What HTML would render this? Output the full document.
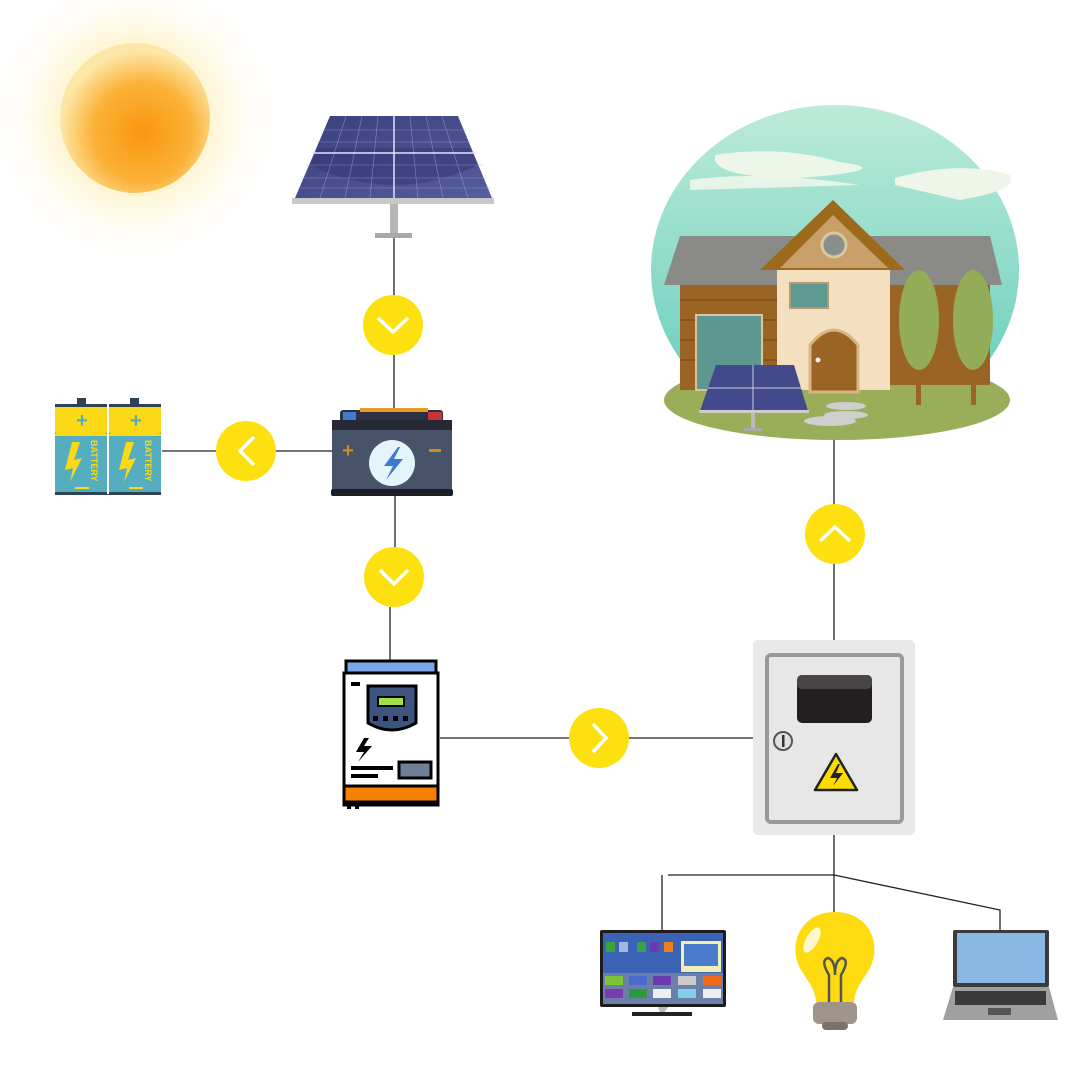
<!DOCTYPE html>
<html><head><meta charset="utf-8"><style>html,body{margin:0;padding:0;background:#fff}svg{display:block}</style></head><body>
<svg width="1080" height="1080" viewBox="0 0 1080 1080" xmlns="http://www.w3.org/2000/svg">
<defs>
<radialGradient id="glow" cx="0.5" cy="0.5" r="0.5">
<stop offset="0" stop-color="#fde9a0" stop-opacity="1"/><stop offset="0.5" stop-color="#fdf1c0" stop-opacity="0.7"/><stop offset="1" stop-color="#fff" stop-opacity="0"/></radialGradient>
<radialGradient id="sun" cx="0.55" cy="0.6" r="0.55">
<stop offset="0" stop-color="#f9960f"/><stop offset="0.6" stop-color="#fbb238"/><stop offset="1" stop-color="#fde7a8"/></radialGradient>
<linearGradient id="sky" x1="0" y1="0" x2="0" y2="1"><stop offset="0" stop-color="#bdebd8"/><stop offset="1" stop-color="#5fcabb"/></linearGradient>
<linearGradient id="panel" x1="0" y1="0" x2="1" y2="1"><stop offset="0" stop-color="#3a3f7e"/><stop offset="1" stop-color="#565d9c"/></linearGradient>
<g id="cellgrid" stroke="#8a90c8" stroke-width="0.5" opacity="0.8"></g>
</defs>
<!-- sun -->
<circle cx="135" cy="118" r="150" fill="url(#glow)"/>
<circle cx="135" cy="118" r="75" fill="url(#sun)"/>
<!-- connectors -->
<g stroke="#222" stroke-width="1.3" fill="none">
<line x1="394" y1="238" x2="394" y2="410"/>
<line x1="162" y1="451" x2="332" y2="451"/>
<line x1="395" y1="496" x2="395" y2="548"/>
<line x1="390" y1="607" x2="390" y2="662"/>
<line x1="440" y1="738" x2="755" y2="738"/>
<line x1="834" y1="440" x2="834" y2="640"/>
<line x1="834" y1="835" x2="834" y2="912"/>
<line x1="668" y1="875" x2="834" y2="875"/>
<line x1="662" y1="875" x2="662" y2="930"/>
<polyline points="834,875 1000,910 1000,930"/>
</g>
<!-- yellow circles -->
<g fill="#fde010"><circle cx="393" cy="325" r="30"/><circle cx="246" cy="451" r="30"/><circle cx="394" cy="577" r="30"/><circle cx="599" cy="738" r="30"/><circle cx="835" cy="534" r="30"/></g>
<g stroke="#fff" stroke-width="3.5" fill="none">
<polyline points="378,318 393,332 408,318"/>
<polyline points="380,570 394,584 408,570"/>
<polyline points="254,437 240,451 254,465"/>
<polyline points="593,724 606,738 593,752"/>
<polyline points="820,541 835,527 850,541"/>
</g>
<!-- solar panel -->
<polygon points="330,116 458,116 492,198 295,198" fill="url(#panel)"/>
<path d="M310,165 Q394,205 478,165 L470,148 L318,148Z" fill="#2b2f6a" opacity="0.4"/>
<g stroke="#9ea4d8" stroke-width="0.6" opacity="0.7">
<line x1="322" y1="130" x2="466" y2="130"/><line x1="316" y1="142" x2="471" y2="142"/><line x1="306" y1="165" x2="482" y2="165"/><line x1="301" y1="178" x2="487" y2="178"/><line x1="298" y1="188" x2="490" y2="188"/>
<line x1="346" y1="116" x2="320" y2="198"/><line x1="362" y1="116" x2="345" y2="198"/><line x1="378" y1="116" x2="370" y2="198"/><line x1="410" y1="116" x2="418" y2="198"/><line x1="426" y1="116" x2="443" y2="198"/><line x1="442" y1="116" x2="468" y2="198"/>
</g>
<line x1="313" y1="153" x2="476" y2="153" stroke="#e0e3ff" stroke-width="1.5"/>
<line x1="394" y1="116" x2="394" y2="198" stroke="#e0e3ff" stroke-width="1.5"/>
<rect x="292" y="198" width="202" height="6" fill="#c8c8c8"/>
<rect x="390" y="204" width="8" height="30" fill="#b5b5b5"/>
<rect x="375" y="233" width="37" height="5" fill="#a9a9a9"/>
<!-- battery -->
<rect x="340" y="410" width="103" height="12" rx="3" fill="#2d3040"/>
<rect x="343" y="412" width="13" height="8" fill="#3f7bd0"/>
<rect x="428" y="412" width="14" height="8" fill="#c83333"/>
<rect x="360" y="408" width="68" height="4" fill="#e89a2a"/>
<rect x="332" y="420" width="120" height="12" fill="#262834"/>
<rect x="332" y="430" width="120" height="60" fill="#465368"/>
<rect x="331" y="489" width="122" height="7" rx="2" fill="#1d1e27"/>
<text x="348" y="457" font-family="Liberation Sans,sans-serif" font-size="20" font-weight="bold" fill="#d48a1c" text-anchor="middle">+</text>
<rect x="429" y="449" width="12" height="3" fill="#d48a1c"/>
<circle cx="392" cy="463" r="23" fill="#e4f4fb"/>
<polygon points="398,447 384,466 393,466 386,480 403,459 394,459 400,447" fill="#3c7acb"/>
<!-- batteries pack -->
<g>
<rect x="77" y="398" width="9" height="7" fill="#2e4258"/><rect x="130" y="398" width="9" height="7" fill="#2e4258"/>
<rect x="55" y="404" width="52" height="90" rx="3" fill="#55aebf"/><rect x="109" y="404" width="52" height="90" rx="3" fill="#55aebf"/>
<rect x="55" y="404" width="52" height="30" rx="3" fill="#fbd917"/><rect x="109" y="404" width="52" height="30" rx="3" fill="#fbd917"/>
<rect x="55" y="434" width="106" height="2" fill="#fbd917"/>
<rect x="55" y="404" width="106" height="3" fill="#2e4258"/><rect x="55" y="492" width="106" height="3" fill="#2e4258"/>
<rect x="107" y="404" width="2" height="90" fill="#fff"/>
<g fill="#55aebf" font-family="Liberation Sans,sans-serif" font-weight="bold" font-size="20" text-anchor="middle"><text x="82" y="427">+</text><text x="136" y="427">+</text></g>
<rect x="75" y="487" width="14" height="2" fill="#fbd917"/><rect x="129" y="487" width="14" height="2" fill="#fbd917"/>
<polygon points="72,442 65,470 73,468 70,482 82,458 74,460 80,442" fill="#fbd917"/>
<polygon points="126,442 119,470 127,468 124,482 136,458 128,460 134,442" fill="#fbd917"/>
<g fill="#fbd917" font-family="Liberation Sans,sans-serif" font-weight="bold" font-size="9"><text transform="translate(91,440) rotate(90)">BATTERY</text><text transform="translate(145,440) rotate(90)">BATTERY</text></g>
</g>
<!-- inverter -->
<rect x="346" y="661" width="90" height="12" fill="#7aa6ea" stroke="#000" stroke-width="3"/>
<rect x="344" y="673" width="94" height="132" fill="#fff" stroke="#000" stroke-width="3"/>
<rect x="344" y="786" width="94" height="16" fill="#f78000" stroke="#000" stroke-width="3"/>
<rect x="347" y="803" width="4" height="6" fill="#000"/><rect x="355" y="803" width="4" height="6" fill="#000"/>
<rect x="351" y="682" width="9" height="4" fill="#000"/>
<path d="M368,686 H416 V723 Q392,737 368,723Z" fill="#3d5480" stroke="#000" stroke-width="3"/>
<rect x="378" y="697" width="26" height="9" fill="#9ee24a" stroke="#000" stroke-width="2"/>
<g fill="#000"><rect x="373" y="716" width="5" height="5"/><rect x="383" y="716" width="5" height="5"/><rect x="393" y="716" width="5" height="5"/><rect x="403" y="716" width="5" height="5"/></g>
<polygon points="364,738 356,752 364,752 358,762 372,746 364,746 369,738" fill="#000"/>
<rect x="351" y="766" width="42" height="4" fill="#000"/><rect x="351" y="774" width="27" height="4" fill="#000"/>
<rect x="399" y="762" width="32" height="16" fill="#6f7f99" stroke="#000" stroke-width="3"/>
<!-- electrical box -->
<rect x="753" y="640" width="162" height="195" rx="5" fill="#e8e9e8"/>
<rect x="767" y="655" width="135" height="167" rx="4" fill="#e6e7e6" stroke="#999" stroke-width="4"/>
<rect x="797" y="675" width="75" height="48" rx="5" fill="#231f20"/>
<rect x="797" y="675" width="75" height="14" rx="5" fill="#4a4647"/>
<circle cx="783" cy="741" r="9" fill="#e0e0e0" stroke="#555" stroke-width="2"/><rect x="782" y="735" width="2.5" height="12" fill="#333"/>
<polygon points="836,754 815,790 857,790" fill="#fddb00" stroke="#222" stroke-width="2.5" stroke-linejoin="round"/>
<polygon points="838,764 830,778 837,778 833,786 843,773 836,773 840,764" fill="#222"/>
<!-- house -->
<ellipse cx="835" cy="270" rx="184" ry="165" fill="url(#sky)"/>
<path d="M715,155 Q780,145 840,162 Q900,170 800,178 Q720,178 715,160Z" fill="#eef6ea"/>
<path d="M690,180 Q760,170 860,185 L690,190Z" fill="#eef6ea" opacity="0.9"/>
<path d="M895,178 Q960,160 1010,175 Q1020,190 960,200 L895,185Z" fill="#eef6ea"/>
<ellipse cx="837" cy="400" rx="173" ry="40" fill="#9aae5a"/>
<polygon points="680,236 990,236 1002,285 664,285" fill="#8a8a86"/>
<rect x="680" y="285" width="97" height="105" fill="#9a6424"/>
<rect x="890" y="285" width="100" height="100" fill="#9a6424"/>
<g stroke="#7c4e1a" stroke-width="1.5"><line x1="680" y1="300" x2="777" y2="300"/><line x1="680" y1="320" x2="777" y2="320"/><line x1="680" y1="340" x2="777" y2="340"/><line x1="680" y1="360" x2="777" y2="360"/></g>
<rect x="696" y="315" width="66" height="75" fill="#5e9790" stroke="#d8c4a0" stroke-width="2"/>
<rect x="777" y="270" width="113" height="120" fill="#f4dfc1"/>
<polygon points="833,200 760,270 905,270" fill="#9d6a1c"/>
<polygon points="833,215 780,268 888,268" fill="#caa06a"/>
<circle cx="834" cy="245" r="12" fill="#888f8c" stroke="#d8c8a0" stroke-width="3"/>
<rect x="790" y="283" width="38" height="25" fill="#5f9a92" stroke="#b89a70" stroke-width="2"/>
<path d="M810,392 V345 Q834,315 858,345 V392Z" fill="#9a6424" stroke="#d8b880" stroke-width="3"/>
<circle cx="818" cy="360" r="2.5" fill="#eee"/>
<rect x="903" y="300" width="20" height="25" fill="#5f9a92" stroke="#d8c4a0" stroke-width="2"/>
<rect x="916" y="360" width="5" height="45" fill="#9a6424"/><rect x="971" y="360" width="5" height="45" fill="#9a6424"/>
<ellipse cx="919" cy="320" rx="20" ry="50" fill="#94ac58"/><ellipse cx="973" cy="320" rx="20" ry="50" fill="#94ac58"/>
<ellipse cx="846" cy="406" rx="20" ry="4" fill="#cfcfcf"/><ellipse cx="846" cy="415" rx="22" ry="4" fill="#cfcfcf"/><ellipse cx="830" cy="421" rx="26" ry="5" fill="#cfcfcf"/>
<polygon points="716,365 794,365 808,411 700,411" fill="#434a8c"/>
<line x1="753" y1="365" x2="753" y2="411" stroke="#ccd" stroke-width="1"/><line x1="708" y1="388" x2="801" y2="388" stroke="#ccd" stroke-width="1"/>
<rect x="699" y="410" width="110" height="3" fill="#ccc"/>
<rect x="751" y="413" width="4" height="16" fill="#bbb"/><rect x="744" y="428" width="18" height="3" fill="#aaa"/>
<!-- TV -->
<rect x="600" y="930" width="126" height="77" rx="2" fill="#1c1c1c"/>
<rect x="603" y="933" width="120" height="71" fill="#3a62b5"/>
<rect x="603" y="973" width="120" height="31" fill="#6b7fa8"/>
<rect x="681" y="941" width="40" height="31" fill="#f1efb8"/><rect x="684" y="944" width="34" height="22" fill="#4b7ccc"/>
<g><rect x="606" y="942" width="9" height="10" fill="#3aa33a"/><rect x="619" y="942" width="9" height="10" fill="#9fb8e0"/><rect x="637" y="942" width="9" height="10" fill="#37a44a"/><rect x="650" y="942" width="9" height="10" fill="#6a3ab0"/><rect x="664" y="942" width="9" height="10" fill="#ef7f1a"/>
<rect x="605" y="976" width="18" height="9" fill="#7fc23a"/><rect x="629" y="976" width="18" height="9" fill="#4a6ad0"/><rect x="653" y="976" width="18" height="9" fill="#6a3ab0"/><rect x="678" y="976" width="18" height="9" fill="#ccc"/><rect x="703" y="976" width="18" height="9" fill="#ef6b1a"/>
<rect x="605" y="989" width="18" height="9" fill="#7a3ab0"/><rect x="629" y="989" width="18" height="9" fill="#2a9a3a"/><rect x="653" y="989" width="18" height="9" fill="#eee"/><rect x="678" y="989" width="18" height="9" fill="#7fd0e8"/><rect x="703" y="989" width="18" height="9" fill="#eee"/></g>
<polygon points="658,1007 668,1007 664,1013 660,1013" fill="#bbb"/>
<rect x="632" y="1012" width="60" height="4" fill="#222"/>
<!-- bulb -->
<path d="M835,912 C800,912 788,945 800,968 C808,982 815,988 816,1002 L854,1002 C855,988 862,982 870,968 C882,945 870,912 835,912Z" fill="#fddb10"/>
<ellipse cx="812" cy="940" rx="6" ry="14" fill="#fff" opacity="0.8" transform="rotate(30 812 940)"/>
<path d="M829,1002 V975 Q820,960 828,958 Q835,960 835,975 Q835,960 842,958 Q850,960 841,975 V1002" stroke="#555" stroke-width="2.5" fill="none"/>
<rect x="813" y="1002" width="44" height="22" rx="6" fill="#9e958a"/>
<rect x="822" y="1022" width="26" height="8" rx="4" fill="#7a7168"/>
<!-- laptop -->
<rect x="953" y="930" width="96" height="57" rx="2" fill="#3b3b3b"/>
<rect x="957" y="933" width="88" height="50" fill="#8ab8e4"/>
<polygon points="953,987 1049,987 1058,1020 943,1020" fill="#a0a0a0"/>
<rect x="955" y="991" width="91" height="14" fill="#3a3a3a"/>
<rect x="988" y="1008" width="23" height="7" fill="#555"/>
</svg>
</body></html>
